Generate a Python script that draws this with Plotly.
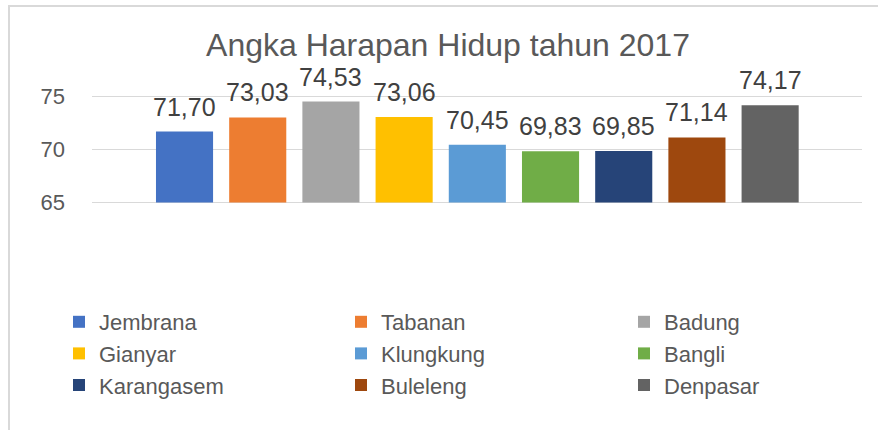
import plotly.graph_objects as go

districts = ["Jembrana", "Tabanan", "Badung", "Gianyar", "Klungkung",
             "Bangli", "Karangasem", "Buleleng", "Denpasar"]
values = [71.70, 73.03, 74.53, 73.06, 70.45, 69.83, 69.85, 71.14, 74.17]
labels = ["71,70", "73,03", "74,53", "73,06", "70,45", "69,83", "69,85", "71,14", "74,17"]
colors = ["#4472C4", "#ED7D31", "#A5A5A5", "#FFC000", "#5B9BD5",
          "#70AD47", "#264478", "#9E480E", "#636363"]
y_ticks = [65, 70, 75]
y_min = 65
title_text = "Angka Harapan Hidup tahun 2017"

FONT = "Liberation Sans, Arial, sans-serif"
legend_ids = ["legend", "legend2", "legend3"]

fig = go.Figure()
for i, (name, v, c) in enumerate(zip(districts, values, colors)):
    fig.add_trace(go.Bar(x=[name], y=[v - y_min], base=y_min, name=name,
                         marker=dict(color=c, line=dict(width=0)),
                         legend=legend_ids[i % 3], hoverinfo="skip"))

for name, v, lab in zip(districts, values, labels):
    fig.add_annotation(x=name, y=v, text=lab, showarrow=False, yanchor="bottom",
                       yshift=9, font=dict(family=FONT, size=25, color="#404040"))

# plot area spans x 92..862 px, y 95..204 px
PX0, PW, PY1, PH = 92, 770, 204, 109

def px(xp):
    return (xp - PX0) / PW

def py(yp):
    return (PY1 - yp) / PH

# chart frame
fig.add_shape(type="rect", xref="paper", yref="paper",
              x0=px(9), x1=px(885), y0=py(440), y1=py(6),
              line=dict(color="#D9D9D9", width=2), fillcolor="rgba(0,0,0,0)", layer="below")

leg_common = dict(orientation="v", xanchor="left", yanchor="top", itemwidth=30,
                  traceorder="normal", font=dict(family=FONT, size=22, color="#595959"),
                  bgcolor="rgba(0,0,0,0)")

fig.update_layout(
    width=878, height=430,
    margin=dict(l=92, r=16, t=95, b=226, autoexpand=False),
    paper_bgcolor="white", plot_bgcolor="white",
    barmode="overlay", bargap=0.22,
    title=dict(text=title_text, x=448/878, xanchor="center", y=1-45/430, yanchor="middle",
               yref="container", font=dict(family=FONT, size=32, color="#595959")),
    xaxis=dict(range=[-1.264, 9.255], showticklabels=False, showgrid=False, zeroline=False,
               showline=False, ticks=""),
    yaxis=dict(range=[64.85, 75.15], tickvals=y_ticks, ticktext=[str(t) for t in y_ticks],
               showgrid=True, gridcolor="#D9D9D9", gridwidth=1.3, zeroline=False, showline=False,
               ticks="", ticklabelstandoff=26,
               tickfont=dict(family=FONT, size=22, color="#595959")),
    showlegend=True,
    legend=dict(x=px(59), y=py(301), **leg_common),
    legend2=dict(x=px(341), y=py(301), **leg_common),
    legend3=dict(x=px(624), y=py(301), **leg_common),
)

fig.write_html("out.html")
